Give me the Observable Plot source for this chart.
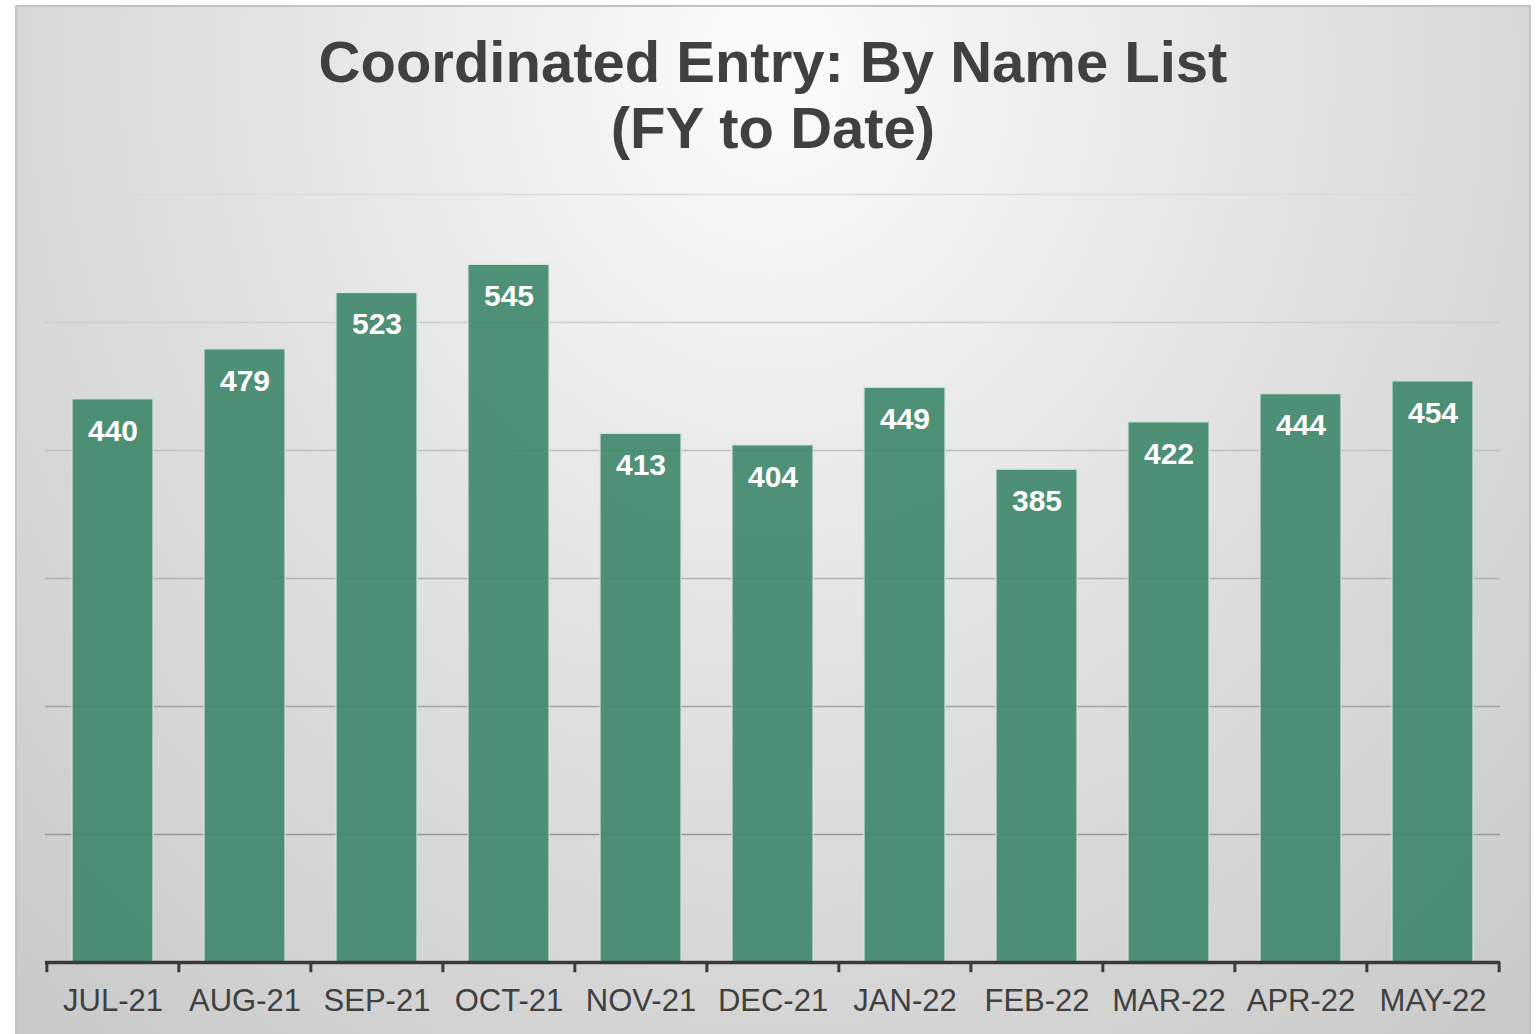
<!DOCTYPE html>
<html>
<head>
<meta charset="utf-8">
<script src="https://cdn.jsdelivr.net/npm/d3@7"></script>
<script src="https://cdn.jsdelivr.net/npm/@observablehq/plot@0.6"></script>
<style>
  html, body { margin: 0; padding: 0; background: #ffffff; overflow: hidden; }
  #chart {
    position: absolute; left: 15px; top: 5px;
    width: 1512px; height: 1040px;
    border: 2px solid #c2c2c2;
    background: radial-gradient(ellipse 1150px 1300px at 50% 6%, #fcfcfc 0%, #ececec 28%, #dadada 62%, #cdcdcd 90%, #c8c8c8 100%);
    font-family: "Liberation Sans", Arial, sans-serif;
  }
  #title {
    height: 163px; box-sizing: border-box; padding-top: 22px;
    text-align: center; font-weight: bold; font-size: 58px; line-height: 66px;
    color: #404040;
  }
  #plot svg { display: block; overflow: visible; }
</style>
</head>
<body>
<div id="chart">
  <div id="title">Coordinated Entry: By Name List<br>(FY to Date)</div>
  <div id="plot"></div>
</div>
<script>
const months = ["JUL-21","AUG-21","SEP-21","OCT-21","NOV-21","DEC-21","JAN-22","FEB-22","MAR-22","APR-22","MAY-22"];
const counts = [440, 479, 523, 545, 413, 404, 449, 385, 422, 444, 454];
const gridValues = [100, 200, 300, 400, 500, 600];

const data = months.map((m, i) => ({month: m, count: counts[i]}));

const W = 1512, H = 864, ML = 28, MR = 29, MT = 24, MB = 72;
const step = (W - ML - MR) / months.length;

const plot = Plot.plot({
  width: W, height: H,
  marginLeft: ML, marginRight: MR, marginTop: MT, marginBottom: MB,
  style: {background: "transparent", fontFamily: "'Liberation Sans', Arial, sans-serif", overflow: "visible"},
  x: {type: "band", domain: months, paddingInner: 0.39, paddingOuter: 0.195, label: null},
  y: {domain: [0, 600], axis: null},
  color: {type: "linear", domain: [100, 600], range: ["#979797", "#dadada"]},
  marks: [
    Plot.ruleY(gridValues, {y: d => d, stroke: d => d, strokeWidth: 1.6}),
    Plot.barY(data, {x: "month", y: "count", fill: "#40896c", fillOpacity: 0.92, stroke: "#cfe6da", strokeWidth: 1.2}),
    Plot.ruleY([0], {stroke: "#3a3a3a", strokeWidth: 3.5}),
    Plot.ruleX(months, {x: d => d, y1: 0, y2: -8, dx: -step / 2, stroke: "#3a3a3a", strokeWidth: 3}),
    Plot.ruleX(months.slice(-1), {x: d => d, y1: 0, y2: -8, dx: step / 2, stroke: "#3a3a3a", strokeWidth: 3}),
    Plot.text(data, {x: "month", y: "count", text: d => String(d.count), fill: "white", fontWeight: "bold", fontSize: 30, lineAnchor: "top", dy: 20}),
    Plot.axisX({tickSize: 0, tickPadding: 26, fontSize: 31, fill: "#404040", label: null})
  ]
});
document.getElementById("plot").appendChild(plot);
</script>
</body>
</html>
